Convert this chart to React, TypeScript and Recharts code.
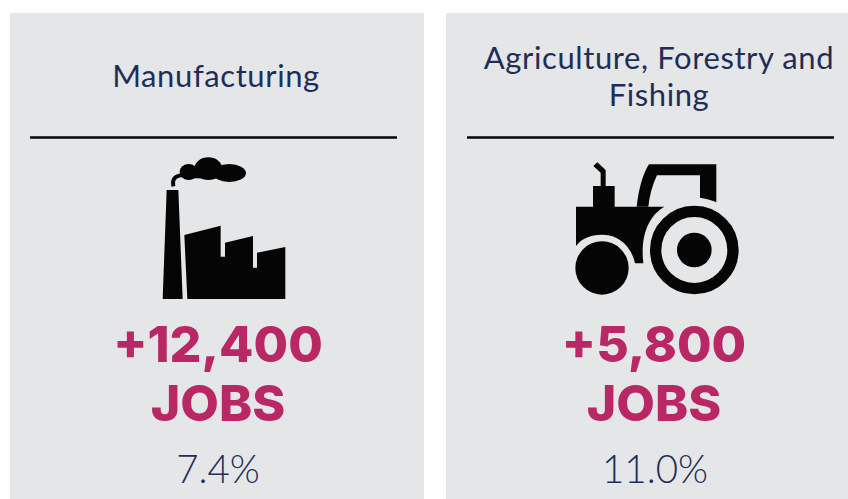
import React from 'react';
import { BarChart, Bar, XAxis, YAxis } from 'recharts';

const categories = ['Manufacturing', 'Agriculture, Forestry and Fishing'];
const titleLines = [['Manufacturing'], ['Agriculture, Forestry and', 'Fishing']];
const jobsAdded = [12400, 5800];
const jobsShare = [7.4, 11.0];
// every card fills the full height of the plot
const panelValues = [1, 1];

const data = categories.map((name, i) => ({
  name,
  lines: titleLines[i],
  jobs: jobsAdded[i],
  share: jobsShare[i],
  panel: panelValues[i],
}));

const FONT = 'Lato, sans-serif';
const HEAVY_FONT = 'Inter, Lato, sans-serif';
const NAVY = '#1f2e58';
const MAGENTA = '#b92765';

// icons are traced in 3x crop pixels, hence the scale(1/3)
const FactoryIcon = ({ x }: { x: number }) => (
  <g transform={`translate(${x + 140},145) scale(0.3333)`} fill="#050505">
    <path d="M50 135 H85 L98 462 H38 Z" />
    <path d="M103 270 L212 242 V335 H225 V293 L309 273 V368 H321 V323 L406 306 V462 H112 Z" />
    <path d="M70 124 C66 100 76 92 100 90" fill="none" stroke="#050505" strokeWidth={12} />
    <ellipse cx={116} cy={81} rx={27} ry={24} />
    <ellipse cx={175} cy={71} rx={42} ry={34} />
    <ellipse cx={238} cy={84} rx={50} ry={27} />
    <rect x={116} y={80} width={110} height={20} />
  </g>
);

const TractorIcon = ({ x }: { x: number }) => (
  <g transform={`translate(${x + 119},150) scale(0.3333)`} fill="#050505">
    <path d="M85 48 L97 37 L122 60 V108 H149 V170 H298 C255 195 225 250 235 340 H210 C200 290 160 252 110 254 C75 255 50 265 33 288 V170 H84 V108 H107 V68 Z" />
    <path d="M215 170 C222 110 235 70 252 43 H454 V157 C440 150 420 146 405 143 V76 H276 C262 105 253 140 250 170 Z" />
    <circle cx={388} cy={300} r={116} fill="none" stroke="#050505" strokeWidth={34} />
    <circle cx={388} cy={300} r={52} />
    <circle cx={111} cy={354} r={80} />
  </g>
);

const Card = (props: any) => {
  const { x, y, width, height, payload, index } = props;
  const cx = x + width / 2 - 1;
  const lines: string[] = payload.lines;
  const Icon = index === 0 ? FactoryIcon : TractorIcon;
  const firstBaseline = lines.length > 1 ? 69 : 87;
  return (
    <g>
      <rect x={x} y={y} width={width} height={height} fill="#e5e6e8" />
      {lines.map((line, i) => (
        <text key={line} x={cx + index * 7} y={firstBaseline + i * 37} textAnchor="middle" fontFamily={FONT} fontSize={31} letterSpacing={0.6} fill={NAVY}>
          {line}
        </text>
      ))}
      <line x1={x + 20 + index} x2={x + 387 + index} y1={137.5} y2={137.5} stroke="#050505" strokeWidth={2.5} />
      <Icon x={x} />
      <text x={cx + 2} y={362} textAnchor="middle" fontFamily={HEAVY_FONT} fontWeight={800} fontSize={50} fill={MAGENTA}>
        {'+' + payload.jobs.toLocaleString('en-US')}
      </text>
      <text x={cx + 2} y={421} textAnchor="middle" fontFamily={HEAVY_FONT} fontWeight={800} fontSize={50} fill={MAGENTA}>
        JOBS
      </text>
      <text x={cx + 2 + index} y={483} textAnchor="middle" fontFamily={FONT} fontWeight={300} fontSize={38.5} fill={NAVY}>
        {payload.share.toFixed(1) + '%'}
      </text>
    </g>
  );
};

export default function App() {
  return (
    <div style={{ position: 'absolute', left: 0, top: 0, width: 848, height: 499, overflow: 'hidden', background: '#fff' }}>
      <BarChart width={848} height={499} data={data} margin={{ top: 13, right: -23, bottom: 0, left: -1 }} barCategoryGap={11}>
        <XAxis dataKey="name" hide />
        <YAxis hide domain={[0, 1]} />
        <Bar dataKey="panel" shape={Card} isAnimationActive={false} />
      </BarChart>
    </div>
  );
}
